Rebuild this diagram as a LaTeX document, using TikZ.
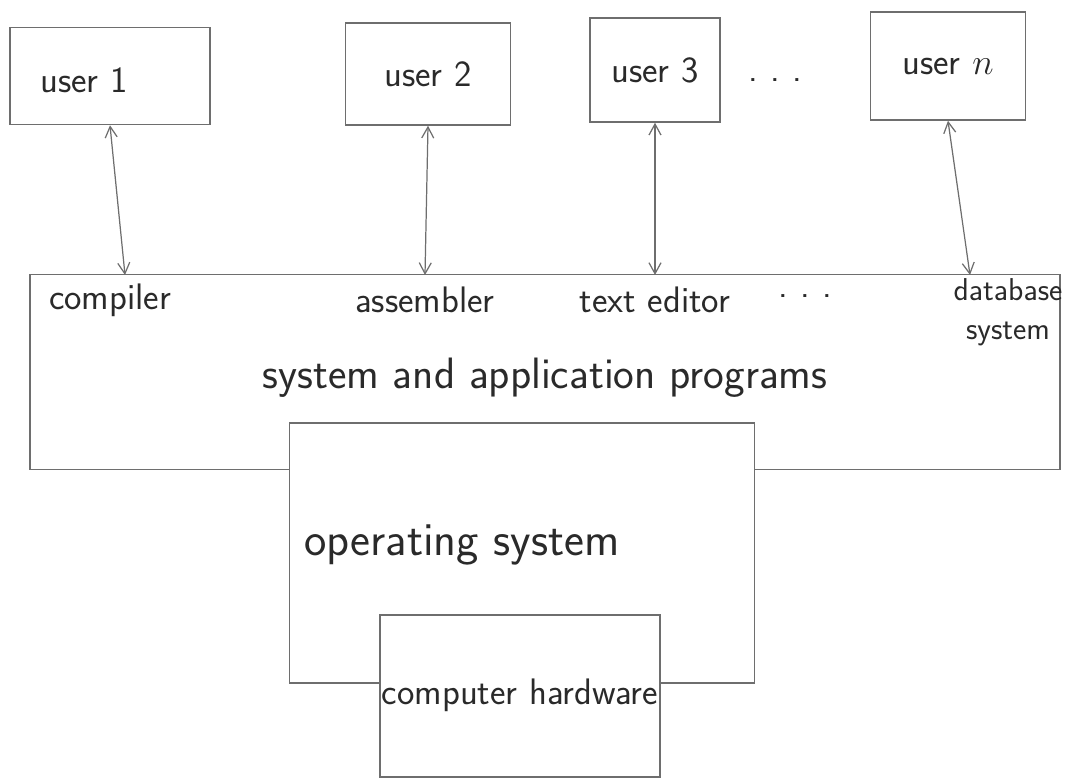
\documentclass[tikz,border=0pt]{standalone}
\usepackage{tikz}
\usetikzlibrary{arrows.meta,positioning}
\definecolor{pencil}{HTML}{6E6E6E}
\definecolor{ink}{HTML}{2A2A2A}

\begin{document}
\begin{tikzpicture}[
  x=0.02cm, y=-0.02cm,
  font=\sffamily\fontsize{21}{25}\selectfont,
  userbox/.style={
    draw=pencil, fill=white, line width=0.9pt, text=ink, inner sep=0pt
  },
  layer/.style={
    draw=pencil, fill=white, line width=0.9pt, inner sep=0pt
  },
  label/.style={text=ink, inner sep=1pt, align=center},
  biglabel/.style={label, font=\sffamily\fontsize{25}{30}\selectfont},
  link/.style={{Straight Barb[length=2.2mm,width=2.4mm]}-{Straight Barb[length=2.2mm,width=2.4mm]},
    line width=0.7pt, color=pencil}
]
  \useasboundingbox (0,0) rectangle (1069,780);
  \node[userbox, minimum width=4cm, minimum height=1.94cm] (user1) at (110,76) {};
  \node[label] (user1text) at (84,80) {user 1};
  \node[userbox, minimum width=3.3cm, minimum height=2.04cm] (user2) at (428,74) {user 2};
  \node[userbox, minimum width=2.6cm, minimum height=2.08cm] (user3) at (655,70) {user 3};
  \node[label] (udots) at (775,80) {.\,\,.\,\,.};
  \node[userbox, minimum width=3.1cm, minimum height=2.16cm] (usern) at (948,66) {user $n$};
  \node[layer, minimum width=20.6cm, minimum height=3.9cm] (apps) at (545,372) {};
  \node[layer, minimum width=9.3cm, minimum height=5.2cm] (os) at (522,553) {};
  \node[layer, minimum width=5.6cm, minimum height=3.24cm] (hw) at (520,696) {};
  \node[label] (compiler) at (110,300) {compiler};
  \node[label] (assembler) at (425,300) {assembler};
  \node[label] (editor) at (655,300) {text editor};
  \node[label] (pdots) at (805,296) {.\,\,.\,\,.};
  \node[label, font=\sffamily\fontsize{18}{22}\selectfont] (database) at (1008,312) {database\\system};
  \node[biglabel] (apptext) at (545,378) {system and application programs};
  \node[biglabel, font=\sffamily\fontsize{27}{32}\selectfont] (ostext) at (462,545) {operating system};
  \node[label] (hwtext) at (520,695) {computer hardware};
  \coordinate (a1) at (125,275);
  \coordinate (a2) at (425,275);
  \coordinate (a3) at (655,275);
  \coordinate (an) at (970,275);
  \draw[link] (user1.south) -- (a1);
  \draw[link] (user2.south) -- (a2);
  \draw[link] (user3.south) -- (a3);
  \draw[link] (usern.south) -- (an);
\end{tikzpicture}
\end{document}
